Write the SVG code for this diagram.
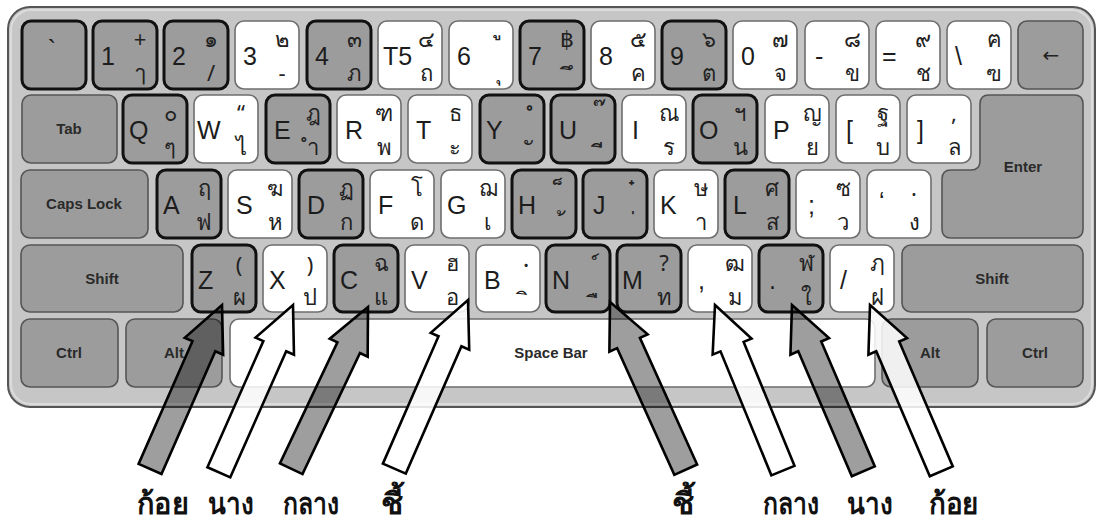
<svg xmlns="http://www.w3.org/2000/svg" width="1098" height="525" viewBox="0 0 1098 525">
<style>
.kw{fill:#ffffff;stroke:#6e6e6e;stroke-width:1.6}
.kg{fill:#9c9c9c;stroke:#555;stroke-width:1.6}
.kh{fill:#9c9c9c;stroke:#111;stroke-width:3}
.m{font-family:"Liberation Sans",Arial,sans-serif;font-size:25px;fill:#1c1c1c}
.t{font-family:"Noto Sans","DejaVu Sans",sans-serif;font-size:22px;fill:#222;text-anchor:middle}
.mk{font-family:"Noto Sans","DejaVu Sans",sans-serif;font-size:24px;fill:#222;text-anchor:middle}
.f{font-family:"Liberation Sans",Arial,sans-serif;font-size:15px;font-weight:bold;fill:#2a2a2a;text-anchor:middle}
.ag{fill:#000;fill-opacity:0.38;stroke:#000;stroke-width:2.6;stroke-linejoin:miter}
.aw{fill:#fff;fill-opacity:0.85;stroke:#000;stroke-width:2.6;stroke-linejoin:miter}
.lb{font-family:"Noto Sans","DejaVu Sans",sans-serif;font-size:30px;font-weight:bold;fill:#111}
</style>
<g id="frame">
<rect x="8" y="7" width="1087" height="400" rx="22" fill="#c6c6c6" stroke="#555" stroke-width="2"/>
<rect x="11" y="10" width="1081" height="394" rx="20" fill="none" stroke="#dcdcdc" stroke-width="2"/>
</g>
<g id="row1">
<g id="key-grave" transform="translate(22,21)"><rect class="kh" width="64" height="68" rx="9"/><text class="m" x="30" y="37" font-size="28" text-anchor="middle">`</text></g>
<g id="key-1" transform="translate(93,21)"><rect class="kh" width="64" height="68" rx="9"/><text class="m" x="8" y="44">1</text><text class="t" x="47" y="26">+</text><text class="t" x="47" y="60">ๅ</text></g>
<g id="key-2" transform="translate(164,21)"><rect class="kh" width="64" height="68" rx="9"/><text class="m" x="8" y="44">2</text><text class="t" x="47" y="26">๑</text><text class="t" x="47" y="60">/</text></g>
<g id="key-3" transform="translate(235,21)"><rect class="kw" width="64" height="68" rx="9"/><text class="m" x="8" y="44">3</text><text class="t" x="47" y="26">๒</text><text class="t" x="47" y="60">-</text></g>
<g id="key-4" transform="translate(307,21)"><rect class="kh" width="64" height="68" rx="9"/><text class="m" x="8" y="44">4</text><text class="t" x="47" y="26">๓</text><text class="t" x="47" y="60">ภ</text></g>
<g id="key-5" transform="translate(378,21)"><rect class="kw" width="64" height="68" rx="9"/><text class="m" x="5" y="44">T5</text><text class="t" x="48" y="26">๔</text><text class="t" x="48" y="60">ถ</text></g>
<g id="key-6" transform="translate(449,21)"><rect class="kw" width="64" height="68" rx="9"/><text class="m" x="8" y="44">6</text><text class="mk" x="49" y="13">&#160;ู</text><text class="mk" x="49" y="58">&#160;ุ</text></g>
<g id="key-7" transform="translate(520,21)"><rect class="kh" width="64" height="68" rx="9"/><text class="m" x="8" y="44">7</text><text class="t" x="47" y="26">฿</text><text class="mk" x="49" y="64">&#160;ึ</text></g>
<g id="key-8" transform="translate(591,21)"><rect class="kw" width="64" height="68" rx="9"/><text class="m" x="8" y="44">8</text><text class="t" x="47" y="26">๕</text><text class="t" x="47" y="60">ค</text></g>
<g id="key-9" transform="translate(662,21)"><rect class="kh" width="64" height="68" rx="9"/><text class="m" x="8" y="44">9</text><text class="t" x="47" y="26">๖</text><text class="t" x="47" y="60">ต</text></g>
<g id="key-0" transform="translate(733,21)"><rect class="kw" width="64" height="68" rx="9"/><text class="m" x="8" y="44">0</text><text class="t" x="47" y="26">๗</text><text class="t" x="47" y="60">จ</text></g>
<g id="key-minus" transform="translate(805,21)"><rect class="kw" width="64" height="68" rx="9"/><text class="m" x="10" y="44">-</text><text class="t" x="47" y="26">๘</text><text class="t" x="47" y="60">ข</text></g>
<g id="key-equal" transform="translate(876,21)"><rect class="kw" width="64" height="68" rx="9"/><text class="m" x="6" y="44">=</text><text class="t" x="47" y="26">๙</text><text class="t" x="47" y="60">ช</text></g>
<g id="key-backslash" transform="translate(947,21)"><rect class="kw" width="64" height="68" rx="9"/><text class="m" x="8" y="44">\</text><text class="t" x="47" y="26">ฅ</text><text class="t" x="47" y="60">ฃ</text></g>
<g id="key-back" transform="translate(1018,21)"><rect class="kg" width="65" height="68" rx="9"/><text x="33" y="41" font-family="DejaVu Sans, sans-serif" font-size="20" fill="#222" text-anchor="middle">←</text></g>
</g>
<g id="row2">
<g id="key-tab" transform="translate(22,95)"><rect class="kg" width="95" height="68" rx="9"/><text class="f" x="47" y="39">Tab</text></g>
<g id="key-q" transform="translate(123,95)"><rect class="kh" width="64" height="68" rx="9"/><text class="m" x="6" y="44">Q</text><text class="t" x="47" y="26">๐</text><text class="t" x="47" y="60">ๆ</text></g>
<g id="key-w" transform="translate(194,95)"><rect class="kw" width="64" height="68" rx="9"/><text class="m" x="3" y="44">W</text><text class="t" x="47" y="26">“</text><text class="t" x="47" y="60">ไ</text></g>
<g id="key-e" transform="translate(266,95)"><rect class="kh" width="64" height="68" rx="9"/><text class="m" x="8" y="44">E</text><text class="t" x="47" y="26">ฎ</text><text class="t" x="47" y="60">ำ</text></g>
<g id="key-r" transform="translate(337,95)"><rect class="kw" width="64" height="68" rx="9"/><text class="m" x="8" y="44">R</text><text class="t" x="47" y="26">ฑ</text><text class="t" x="47" y="60">พ</text></g>
<g id="key-t" transform="translate(408,95)"><rect class="kw" width="64" height="68" rx="9"/><text class="m" x="8" y="44">T</text><text class="t" x="47" y="26">ธ</text><text class="t" x="47" y="60">ะ</text></g>
<g id="key-y" transform="translate(480,95)"><rect class="kh" width="64" height="68" rx="9"/><text class="m" x="6" y="44">Y</text><text class="mk" x="49" y="30">&#160;ํ</text><text class="mk" x="49" y="64">&#160;ั</text></g>
<g id="key-u" transform="translate(551,95)"><rect class="kh" width="64" height="68" rx="9"/><text class="m" x="8" y="44">U</text><text class="mk" x="49" y="30">&#160;๊</text><text class="mk" x="49" y="67">&#160;ี</text></g>
<g id="key-i" transform="translate(622,95)"><rect class="kw" width="64" height="68" rx="9"/><text class="m" x="10" y="44">I</text><text class="t" x="47" y="26">ณ</text><text class="t" x="47" y="60">ร</text></g>
<g id="key-o" transform="translate(693,95)"><rect class="kh" width="64" height="68" rx="9"/><text class="m" x="6" y="44">O</text><text class="t" x="47" y="26">ฯ</text><text class="t" x="47" y="60">น</text></g>
<g id="key-p" transform="translate(765,95)"><rect class="kw" width="64" height="68" rx="9"/><text class="m" x="8" y="44">P</text><text class="t" x="47" y="26">ญ</text><text class="t" x="47" y="60">ย</text></g>
<g id="key-lbracket" transform="translate(836,95)"><rect class="kw" width="64" height="68" rx="9"/><text class="m" x="10" y="44">[</text><text class="t" x="47" y="26">ฐ</text><text class="t" x="47" y="60">บ</text></g>
<g id="key-rbracket" transform="translate(907,95)"><rect class="kw" width="64" height="68" rx="9"/><text class="m" x="10" y="44">]</text><text class="t" x="47" y="26">,</text><text class="t" x="47" y="60">ล</text></g>
<g id="key-enter"><path class="kg" d="M989,95 H1074 Q1083,95 1083,104 V229 Q1083,238 1074,238 H951 Q942,238 942,229 V179 Q942,170 951,170 H971 Q980,170 980,161 V104 Q980,95 989,95 Z"/><text class="f" x="1023" y="172">Enter</text></g>
</g>
<g id="row3">
<g id="key-caps" transform="translate(21,170)"><rect class="kg" width="127" height="68" rx="9"/><text class="f" x="63" y="39">Caps Lock</text></g>
<g id="key-a" transform="translate(157,170)"><rect class="kh" width="64" height="68" rx="9"/><text class="m" x="6" y="44">A</text><text class="t" x="47" y="26">ฤ</text><text class="t" x="47" y="60">ฟ</text></g>
<g id="key-s" transform="translate(228,170)"><rect class="kw" width="64" height="68" rx="9"/><text class="m" x="8" y="44">S</text><text class="t" x="47" y="26">ฆ</text><text class="t" x="47" y="60">ห</text></g>
<g id="key-d" transform="translate(299,170)"><rect class="kh" width="64" height="68" rx="9"/><text class="m" x="8" y="44">D</text><text class="t" x="47" y="26">ฏ</text><text class="t" x="47" y="60">ก</text></g>
<g id="key-f" transform="translate(370,170)"><rect class="kw" width="64" height="68" rx="9"/><text class="m" x="8" y="44">F</text><text class="t" x="47" y="26">โ</text><text class="t" x="47" y="60">ด</text></g>
<g id="key-g" transform="translate(441,170)"><rect class="kw" width="64" height="68" rx="9"/><text class="m" x="6" y="44">G</text><text class="t" x="47" y="26">ฌ</text><text class="t" x="47" y="60">เ</text></g>
<g id="key-h" transform="translate(512,170)"><rect class="kh" width="64" height="68" rx="9"/><text class="m" x="6" y="44">H</text><text class="mk" x="49" y="30">&#160;็</text><text class="mk" x="49" y="66">&#160;้</text></g>
<g id="key-j" transform="translate(583,170)"><rect class="kh" width="64" height="68" rx="9"/><text class="m" x="10" y="44">J</text><text class="mk" x="49" y="35">&#160;๋</text><text class="mk" x="49" y="66">&#160;่</text></g>
<g id="key-k" transform="translate(654,170)"><rect class="kw" width="64" height="68" rx="9"/><text class="m" x="6" y="44">K</text><text class="t" x="47" y="26">ษ</text><text class="t" x="47" y="60">า</text></g>
<g id="key-l" transform="translate(725,170)"><rect class="kh" width="64" height="68" rx="9"/><text class="m" x="8" y="44">L</text><text class="t" x="47" y="26">ศ</text><text class="t" x="47" y="60">ส</text></g>
<g id="key-semicolon" transform="translate(796,170)"><rect class="kw" width="64" height="68" rx="9"/><text class="m" x="12" y="44">;</text><text class="t" x="47" y="26">ซ</text><text class="t" x="47" y="60">ว</text></g>
<g id="key-quote" transform="translate(867,170)"><rect class="kw" width="64" height="68" rx="9"/><text class="m" x="12" y="40">‘</text><text class="t" x="47" y="26">.</text><text class="t" x="47" y="60">ง</text></g>
</g>
<g id="row4">
<g id="key-lshift" transform="translate(21,245)"><rect class="kg" width="162" height="67" rx="9"/><text class="f" x="81" y="39">Shift</text></g>
<g id="key-z" transform="translate(192,245)"><rect class="kh" width="64" height="67" rx="9"/><text class="m" x="6" y="44">Z</text><text class="t" x="47" y="28">(</text><text class="t" x="47" y="60">ผ</text></g>
<g id="key-x" transform="translate(263,245)"><rect class="kw" width="64" height="67" rx="9"/><text class="m" x="6" y="44">X</text><text class="t" x="47" y="28">)</text><text class="t" x="47" y="60">ป</text></g>
<g id="key-c" transform="translate(334,245)"><rect class="kh" width="64" height="67" rx="9"/><text class="m" x="6" y="44">C</text><text class="t" x="47" y="26">ฉ</text><text class="t" x="47" y="60">แ</text></g>
<g id="key-v" transform="translate(405,245)"><rect class="kw" width="64" height="67" rx="9"/><text class="m" x="6" y="44">V</text><text class="t" x="47" y="26">ฮ</text><text class="t" x="47" y="60">อ</text></g>
<g id="key-b" transform="translate(476,245)"><rect class="kw" width="64" height="67" rx="9"/><text class="m" x="8" y="44">B</text><text class="mk" x="49" y="18">&#160;ฺ</text><text class="mk" x="49" y="65">&#160;ิ</text></g>
<g id="key-n" transform="translate(546,245)"><rect class="kh" width="64" height="67" rx="9"/><text class="m" x="6" y="44">N</text><text class="mk" x="49" y="34">&#160;์</text><text class="mk" x="49" y="68">&#160;ื</text></g>
<g id="key-m" transform="translate(617,245)"><rect class="kh" width="64" height="67" rx="9"/><text class="m" x="5" y="44">M</text><text class="t" x="47" y="26">?</text><text class="t" x="47" y="60">ท</text></g>
<g id="key-comma" transform="translate(688,245)"><rect class="kw" width="64" height="67" rx="9"/><text class="m" x="10" y="44">,</text><text class="t" x="47" y="26">ฒ</text><text class="t" x="47" y="60">ม</text></g>
<g id="key-period" transform="translate(759,245)"><rect class="kh" width="64" height="67" rx="9"/><text class="m" x="10" y="44">.</text><text class="t" x="47" y="26">ฬ</text><text class="t" x="47" y="60">ใ</text></g>
<g id="key-slash" transform="translate(830,245)"><rect class="kw" width="64" height="67" rx="9"/><text class="m" x="10" y="44">/</text><text class="t" x="47" y="26">ฦ</text><text class="t" x="47" y="60">ฝ</text></g>
<g id="key-rshift" transform="translate(902,245)"><rect class="kg" width="181" height="67" rx="9"/><text class="f" x="90" y="39">Shift</text></g>
</g>
<g id="row5">
<g id="key-lctrl" transform="translate(21,319)"><rect class="kg" width="97" height="68" rx="9"/><text class="f" x="48" y="39">Ctrl</text></g>
<g id="key-lalt" transform="translate(126,319)"><rect class="kg" width="96" height="68" rx="9"/><text class="f" x="48" y="39">Alt</text></g>
<g id="key-space" transform="translate(230,319)"><rect class="kw" width="645" height="68" rx="9"/><text class="f" x="321" y="39">Space Bar</text></g>
<g id="key-ralt" transform="translate(882,319)"><rect class="kg" width="96" height="68" rx="9"/><text class="f" x="48" y="39">Alt</text></g>
<g id="key-rctrl" transform="translate(987,319)"><rect class="kg" width="96" height="68" rx="9"/><text class="f" x="48" y="39">Ctrl</text></g>
</g>
<g id="connectors">
<path class="ag" transform="translate(222,305) rotate(23.7)" d="M0,0 L21,45 L12.5,45 L12.5,179 L-12.5,179 L-12.5,45 L-21,45 Z"/>
<path class="aw" transform="translate(293,305) rotate(23.9)" d="M0,0 L21,45 L12.5,45 L12.5,183 L-12.5,183 L-12.5,45 L-21,45 Z"/>
<path class="ag" transform="translate(368,307) rotate(25.4)" d="M0,0 L21,45 L12.5,45 L12.5,179 L-12.5,179 L-12.5,45 L-21,45 Z"/>
<path class="aw" transform="translate(468,300) rotate(23.6)" d="M0,0 L21,45 L12.5,45 L12.5,184 L-12.5,184 L-12.5,45 L-21,45 Z"/>
<path class="ag" transform="translate(610,302) rotate(-24.3)" d="M0,0 L21,45 L12.5,45 L12.5,184 L-12.5,184 L-12.5,45 L-21,45 Z"/>
<path class="aw" transform="translate(715,305) rotate(-22.3)" d="M0,0 L21,45 L12.5,45 L12.5,179 L-12.5,179 L-12.5,45 L-21,45 Z"/>
<path class="ag" transform="translate(792,305) rotate(-23.2)" d="M0,0 L21,45 L12.5,45 L12.5,181 L-12.5,181 L-12.5,45 L-21,45 Z"/>
<path class="aw" transform="translate(870,305) rotate(-23.2)" d="M0,0 L21,45 L12.5,45 L12.5,181 L-12.5,181 L-12.5,45 L-21,45 Z"/>
</g>
<g id="labels">
<text class="lb" x="137" y="514" textLength="52" lengthAdjust="spacingAndGlyphs">ก้อย</text>
<text class="lb" x="208" y="514" textLength="46" lengthAdjust="spacingAndGlyphs">นาง</text>
<text class="lb" x="283" y="514" textLength="56" lengthAdjust="spacingAndGlyphs">กลาง</text>
<text class="lb" x="381" y="514" textLength="22" lengthAdjust="spacingAndGlyphs">ชี้</text>
<text class="lb" x="672" y="514" textLength="22" lengthAdjust="spacingAndGlyphs">ชี้</text>
<text class="lb" x="763" y="514" textLength="56" lengthAdjust="spacingAndGlyphs">กลาง</text>
<text class="lb" x="847" y="514" textLength="46" lengthAdjust="spacingAndGlyphs">นาง</text>
<text class="lb" x="929" y="514" textLength="50" lengthAdjust="spacingAndGlyphs">ก้อย</text>
</g>
</svg>
